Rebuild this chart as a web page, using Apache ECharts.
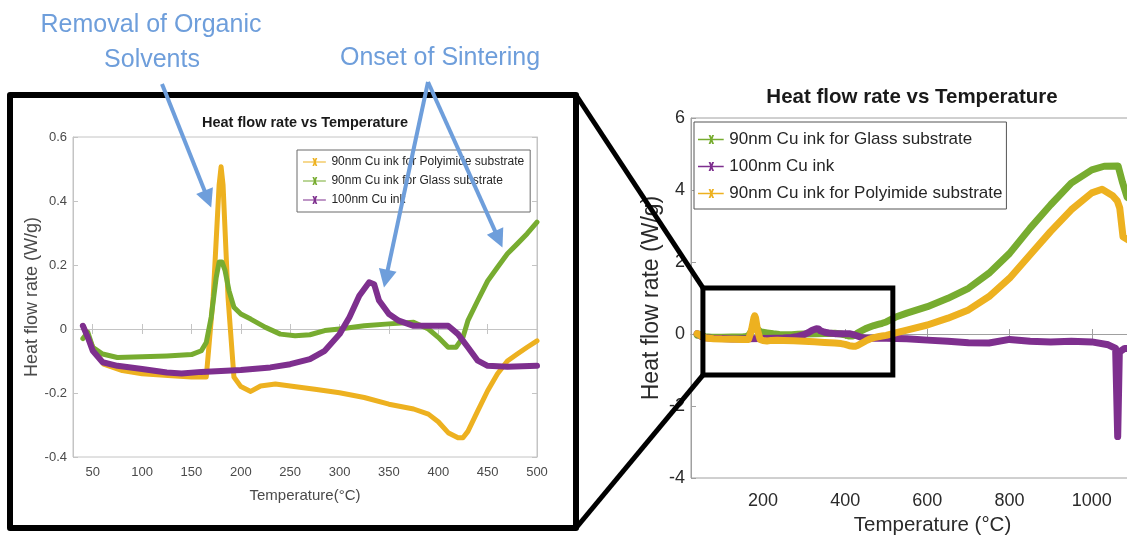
<!DOCTYPE html>
<html><head><meta charset="utf-8">
<script src="https://cdn.jsdelivr.net/npm/echarts@6/dist/echarts.min.js"></script>
<style>html,body{margin:0;padding:0;background:#fff}#c{width:1127px;height:536px}</style>
</head><body><div id="c"></div>
<script>
// ---- data ----
const seriesNames = ['90nm Cu ink for Polyimide substrate', '90nm Cu ink for Glass substrate', '100nm Cu ink'];
const chartTitle = 'Heat flow rate vs Temperature';
const annotationTexts = ['Removal of Organic', 'Solvents', 'Onset of Sintering'];

// 90nm Cu ink, polyimide substrate (yellow), 40-500 °C
const polyT = [40, 45, 50, 61, 80, 100, 130, 150, 165, 172, 178, 180, 182, 187, 193, 200, 210, 220, 235, 250, 275, 300, 325, 350, 375, 390, 400, 410, 420, 425, 430, 440, 450, 460, 470, 480, 490, 500];
const polyV = [0.01, -0.02, -0.057, -0.11, -0.13, -0.14, -0.146, -0.15, -0.15, 0.1, 0.45, 0.507, 0.45, 0.1, -0.15, -0.18, -0.195, -0.178, -0.172, -0.178, -0.188, -0.199, -0.214, -0.235, -0.25, -0.266, -0.29, -0.324, -0.34, -0.34, -0.32, -0.256, -0.193, -0.14, -0.10, -0.078, -0.057, -0.037];
// 90nm Cu ink, glass substrate (green)
const glassT = [40, 45, 50, 60, 75, 100, 125, 150, 160, 165, 170, 175, 178, 181, 184, 188, 193, 200, 210, 225, 240, 255, 270, 285, 300, 325, 350, 375, 390, 400, 410, 418, 425, 430, 440, 450, 460, 470, 480, 490, 500];
const glassV = [-0.03, -0.01, -0.057, -0.078, -0.089, -0.087, -0.084, -0.08, -0.068, -0.042, 0.037, 0.16, 0.209, 0.209, 0.183, 0.12, 0.068, 0.047, 0.031, 0.005, -0.016, -0.021, -0.018, -0.005, 0, 0.01, 0.016, 0.021, 0, -0.026, -0.057, -0.057, -0.026, 0.026, 0.089, 0.15, 0.193, 0.235, 0.266, 0.298, 0.334];
// 100nm Cu ink (purple)
const purpT = [40, 45, 50, 60, 75, 100, 125, 140, 160, 200, 230, 250, 270, 285, 300, 310, 320, 330, 335, 340, 350, 360, 375, 400, 410, 420, 430, 440, 450, 470, 500];
const purpV = [0.01, -0.026, -0.068, -0.104, -0.115, -0.125, -0.136, -0.139, -0.134, -0.128, -0.12, -0.11, -0.094, -0.068, -0.016, 0.037, 0.104, 0.146, 0.14, 0.089, 0.047, 0.026, 0.01, 0.01, 0.01, -0.016, -0.057, -0.099, -0.115, -0.118, -0.115];

// high-temperature continuation (right panel), 500-1100 °C
const glassHiT = [525, 550, 600, 650, 700, 750, 800, 850, 900, 950, 1000, 1030, 1064, 1075, 1086, 1100];
const glassHiV = [0.48, 0.58, 0.76, 0.99, 1.27, 1.69, 2.24, 2.94, 3.59, 4.19, 4.56, 4.66, 4.67, 4.2, 3.8, 3.7];
const polyHiT = [525, 550, 600, 650, 700, 750, 800, 850, 900, 950, 1000, 1025, 1050, 1062, 1068, 1076, 1090, 1100];
const polyHiV = [0.04, 0.11, 0.25, 0.44, 0.67, 1.04, 1.55, 2.2, 2.85, 3.45, 3.92, 4.02, 3.85, 3.7, 3.5, 2.7, 2.6, 2.6];
const purpHiT = [550, 600, 650, 700, 750, 800, 850, 900, 950, 1000, 1040, 1058, 1063, 1067, 1080, 1100];
const purpHiV = [-0.13, -0.17, -0.2, -0.24, -0.25, -0.15, -0.2, -0.22, -0.2, -0.22, -0.3, -0.4, -2.85, -0.5, -0.4, -0.4];

// tick values
const leftXTicks = [50, 100, 150, 200, 250, 300, 350, 400, 450, 500];
const rightXTicks = [200, 400, 600, 800, 1000];

// ---- chart ----
const FONT = "'Liberation Sans',Arial,Helvetica,sans-serif";
const YEL = '#EDB120', GRN = '#77AC30', PUR = '#7E2F8E', BLUE = '#6E9EDB';
const zip = (t, v) => t.map((x, i) => [x, v[i]]);
const icon = 'path://M0,9L40,9L40,11L0,11Z M16.5,3L19.5,3L25,17L22,17Z M22,3L25,3L19.5,17L16.5,17Z';

const chart = echarts.init(document.getElementById('c'));

function xAxes(gi, min, max, ticks, lineColor, labelColor, fs, margin, name, nameFs, nameGap) {
  return [
    { type: 'value', gridIndex: gi, position: 'bottom', min, max,
      axisLine: { show: true, lineStyle: { color: lineColor } },
      axisTick: { inside: true, length: 5, customValues: ticks, lineStyle: { color: lineColor } },
      axisLabel: { customValues: ticks, color: labelColor, fontFamily: FONT, fontSize: fs, margin, formatter: v => String(v) },
      splitLine: { show: false },
      name, nameLocation: 'middle', nameGap,
      nameTextStyle: { fontFamily: FONT, fontSize: nameFs, color: labelColor } },
    { type: 'value', gridIndex: gi, position: 'top', min, max,
      axisLine: { show: true, lineStyle: { color: lineColor } },
      axisTick: { inside: true, length: 5, customValues: ticks, lineStyle: { color: lineColor } },
      axisLabel: { show: false }, splitLine: { show: false } }
  ];
}
function yAxes(gi, min, max, interval, lineColor, labelColor, fs, margin, name, nameFs, nameGap, fmt) {
  return [
    { type: 'value', gridIndex: gi, position: 'left', min, max, interval,
      axisLine: { show: true, lineStyle: { color: lineColor } },
      axisTick: { inside: true, length: 5, lineStyle: { color: lineColor } },
      axisLabel: { color: labelColor, fontFamily: FONT, fontSize: fs, margin, formatter: fmt },
      splitLine: { show: false },
      name, nameLocation: 'middle', nameGap,
      nameTextStyle: { fontFamily: FONT, fontSize: nameFs, color: labelColor } },
    { type: 'value', gridIndex: gi, position: 'right', min, max, interval,
      axisLine: { show: true, lineStyle: { color: lineColor } },
      axisTick: { inside: true, length: 5, lineStyle: { color: lineColor } },
      axisLabel: { show: false }, splitLine: { show: false } }
  ];
}

function line(name, data, color, xi, yi, w) {
  return { type: 'line', name, data, xAxisIndex: xi, yAxisIndex: yi, showSymbol: false, symbol: 'none',
    lineStyle: { color, width: w, join: 'round', cap: 'round' }, itemStyle: { color },
    emphasis: { disabled: true }, silent: true };
}

const option = {
  animation: false,
  backgroundColor: '#ffffff',
  title: [
    { text: chartTitle, left: 305, top: 115, textAlign: 'center', padding: 0,
      textStyle: { fontFamily: FONT, fontSize: 14.5, fontWeight: 'bold', color: '#1a1a1a' } },
    { text: chartTitle, left: 912, top: 87, textAlign: 'center', padding: 0,
      textStyle: { fontFamily: FONT, fontSize: 20.5, fontWeight: 'bold', color: '#1a1a1a' } }
  ],
  legend: [
    { data: [seriesNames[0], seriesNames[1], seriesNames[2]], orient: 'vertical', left: 297, top: 150,
      padding: [6, 6], itemGap: 7, itemWidth: 24, itemHeight: 8, icon,
      borderColor: '#6a6a6a', borderWidth: 1, backgroundColor: '#fff', selectedMode: false,
      textStyle: { fontFamily: FONT, fontSize: 12, color: '#262626', lineHeight: 12 } },
    { data: [seriesNames[1], seriesNames[2], seriesNames[0]], orient: 'vertical', left: 694, top: 122,
      padding: [9, 4, 7, 4], itemGap: 10, itemWidth: 27, itemHeight: 9, icon,
      borderColor: '#555', borderWidth: 1, backgroundColor: '#fff', selectedMode: false,
      textStyle: { fontFamily: FONT, fontSize: 17, color: '#262626', lineHeight: 17 } }
  ],
  grid: [
    { left: 73, top: 137, width: 464, height: 320, show: true, borderColor: '#c4c4c4', borderWidth: 1, outerBoundsMode: 'none', containLabel: false },
    { left: 691, top: 118, width: 483, height: 360, show: true, borderColor: '#a0a0a0', borderWidth: 1, outerBoundsMode: 'none', containLabel: false }
  ],
  xAxis: [
    ...xAxes(0, 30, 500, leftXTicks, '#c4c4c4', '#4a4a4a', 13, 9, 'Temperature(°C)', 15, 31),
    ...xAxes(1, 25, 1200, rightXTicks, '#a0a0a0', '#2a2a2a', 18, 14, 'Temperature (°C)', 20.5, 36)
  ],
  yAxis: [
    ...yAxes(0, -0.4, 0.6, 0.2, '#c4c4c4', '#4a4a4a', 13, 6, 'Heat flow rate (W/g)', 18, 17, v => String(+v.toFixed(1))),
    ...yAxes(1, -4, 6, 2, '#a0a0a0', '#2a2a2a', 18, 6, 'Heat flow rate (W/g)', 23, 28, v => String(Math.round(v)))
  ],
  series: [
    line(seriesNames[0], zip(polyT, polyV), YEL, 0, 0, 5),
    line(seriesNames[1], zip(glassT, glassV), GRN, 0, 0, 5),
    line(seriesNames[2], zip(purpT, purpV), PUR, 0, 0, 6),
    line(seriesNames[1], zip(glassT.concat(glassHiT), glassV.concat(glassHiV)), GRN, 2, 2, 7),
    line(seriesNames[2], zip(purpT.concat(purpHiT), purpV.concat(purpHiV)), PUR, 2, 2, 7),
    line(seriesNames[0], zip(polyT.concat(polyHiT), polyV.concat(polyHiV)), YEL, 2, 2, 7)
  ]
};
chart.setOption(option);

// ---- annotations: frame, zoom box, connectors, arrows ----
const px = (gi, x, y) => chart.convertToPixel({ gridIndex: gi }, [x, y]);
const zA = px(1, 54, 1.28), zB = px(1, 516, -1.14);
const frame = { x1: 10, y1: 95, x2: 576, y2: 528 };
function arrow(s, t) {
  const dx = t[0] - s[0], dy = t[1] - s[1], L = Math.hypot(dx, dy);
  const ux = dx / L, uy = dy / L, nx = -uy, ny = ux, hl = 18, hw = 9;
  const b = [t[0] - ux * hl, t[1] - uy * hl];
  return [
    { type: 'line', z: 100, shape: { x1: s[0], y1: s[1], x2: b[0] + ux * 2, y2: b[1] + uy * 2 }, style: { stroke: BLUE, lineWidth: 4 } },
    { type: 'polygon', z: 100, shape: { points: [t, [b[0] + nx * hw, b[1] + ny * hw], [b[0] - nx * hw, b[1] - ny * hw]] }, style: { fill: BLUE } }
  ];
}
const tip1 = px(0, 170, 0.38), tip2 = px(0, 345, 0.13), tip3 = px(0, 465, 0.255);
const apex = [428, 82];
const txt = (s, x, y) => ({ type: 'text', z: 100, x, y,
  style: { text: s, fill: BLUE, fontFamily: FONT, fontSize: 25, textAlign: 'center', textVerticalAlign: 'middle' } });
const black = { stroke: '#000', lineWidth: 6, fill: null, lineJoin: 'round' };
chart.setOption({
  graphic: [
    { type: 'rect', z: 90, shape: { x: frame.x1, y: frame.y1, width: frame.x2 - frame.x1, height: frame.y2 - frame.y1 }, style: black },
    { type: 'rect', z: 90, shape: { x: zA[0], y: zA[1], width: zB[0] - zA[0], height: zB[1] - zA[1] }, style: { stroke: '#000', lineWidth: 5, fill: null } },
    { type: 'line', z: 90, shape: { x1: frame.x2, y1: frame.y1, x2: zA[0], y2: zA[1] }, style: { stroke: '#000', lineWidth: 5 } },
    { type: 'line', z: 90, shape: { x1: frame.x2, y1: frame.y2, x2: zA[0], y2: zB[1] }, style: { stroke: '#000', lineWidth: 5 } },
    ...arrow([162, 84], tip1),
    ...arrow(apex, tip2),
    ...arrow(apex, tip3),
    txt(annotationTexts[0], 151, 25),
    txt(annotationTexts[1], 152, 60),
    txt(annotationTexts[2], 440, 58)
  ]
});
</script></body></html>
